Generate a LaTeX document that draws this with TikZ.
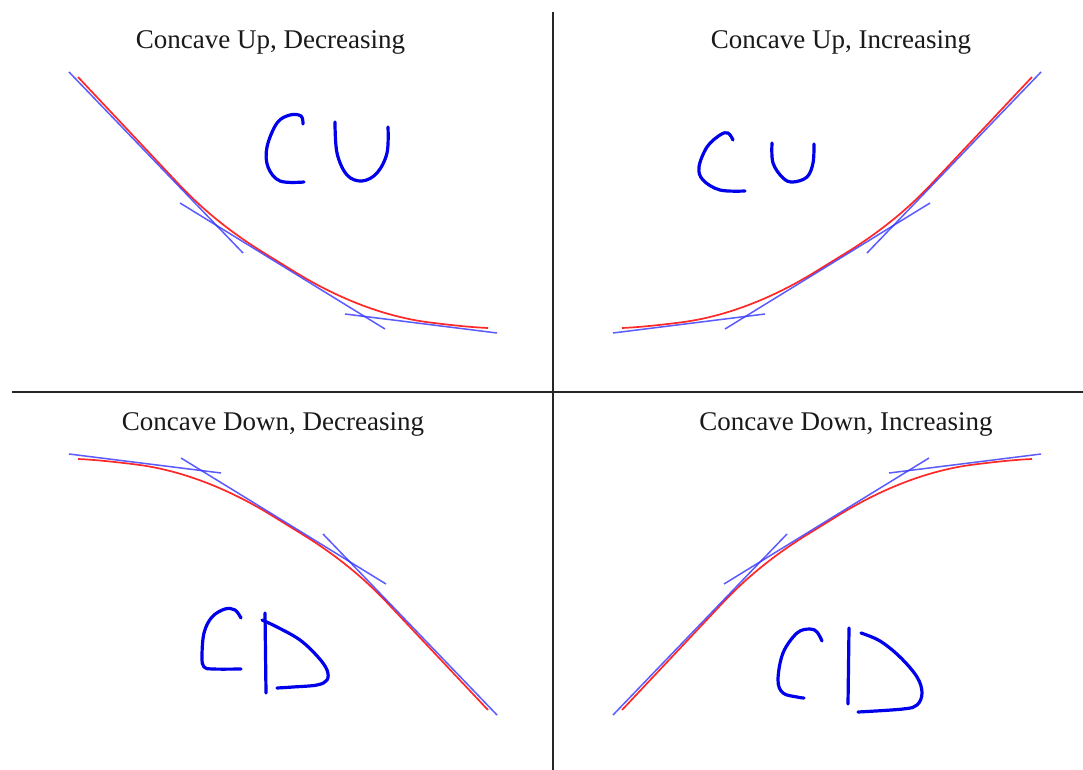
\documentclass[tikz,border=0pt]{standalone}
\usepackage{fontspec}
\setmainfont{Liberation Serif}
\definecolor{curvered}{RGB}{255,40,40}
\definecolor{tanblue}{RGB}{50,50,255}
\definecolor{inkblue}{RGB}{0,0,235}
\newcommand\quadrantcurves{%
  \draw[redcurve] (78,77) -- (180,185.5) .. controls (204.4,211.2) and (232.7,233.8) .. (265,253.5)
    -- (295,272) .. controls (339.4,299.3) and (385.9,317) .. (430,322.5)
    .. controls (450,325) and (470,327.2) .. (488,328);
  \draw[tanline] (69,72) -- (243,253);
  \draw[tanline] (180,203) -- (385,329);
  \draw[tanline] (345,314) -- (497,333);
}
\begin{document}
\begin{tikzpicture}[x=1pt,y=-1pt,
  axis/.style={line width=2pt,black!85},
  redcurve/.style={line width=1.7pt,curvered,line join=round},
  tanline/.style={line width=1.5pt,tanblue,opacity=0.8},
  ink/.style={line width=3.2pt,inkblue,line cap=round,line join=round},
  title/.style={anchor=base,inner sep=0pt,font=\fontsize{27}{30}\selectfont,text=black!90}]
\useasboundingbox (0,0) rectangle (1083,770);
\fill[white] (0,0) rectangle (1083,770);
% axes
\coordinate (vtop) at (553,12);
\coordinate (vbot) at (553,770);
\coordinate (hleft) at (12,392);
\coordinate (hright) at (1083,392);
\draw[axis] (vtop) -- (vbot);
\draw[axis] (hleft) -- (hright);
% titles
\node[title] (t1) at (270.5,49) {Concave Up, Decreasing};
\node[title] (t2) at (841,49) {Concave Up, Increasing};
\node[title] (t3) at (273,430) {Concave Down, Decreasing};
\node[title] (t4) at (846,430) {Concave Down, Increasing};
% curves with tangent lines
\begin{scope}
  \quadrantcurves
\end{scope}
\begin{scope}[cm={-1,0,0,1,(1110,0)}]
  \quadrantcurves
\end{scope}
\begin{scope}[cm={-1,0,0,-1,(566,787)}]
  \quadrantcurves
\end{scope}
\begin{scope}[cm={1,0,0,-1,(544,787)}]
  \quadrantcurves
\end{scope}
% handwriting: top-left CU
\draw[ink] plot[smooth,tension=0.6] coordinates {(303,124) (301,116) (290,115) (277,123) (267,147) (268,167) (280,181) (304,182)};
\draw[ink] plot[smooth,tension=0.6] coordinates {(335,122) (337,153) (347,175) (362,181) (377,173) (387,153) (388,127)};
% top-right CU
\draw[ink] plot[smooth,tension=0.6] coordinates {(733,140) (728,133) (720,135) (707,147) (699,167) (703,180) (720,190) (745,191)};
\draw[ink] plot[smooth,tension=0.6] coordinates {(772,143) (773,163) (783,178) (793,182) (807,177) (813,163) (814,144)};
% bottom-left CD
\draw[ink] plot[smooth,tension=0.6] coordinates {(241,618) (235,610) (225,609) (212,617) (204,633) (202,657) (204,667) (213,669) (241,669)};
\draw[ink] (265,613) -- (266,693);
\draw[ink] plot[smooth,tension=0.6] coordinates {(262,620) (277,627) (300,640) (318,657) (327,670) (327,680) (317,685) (293,687) (277,688)};
% bottom-right CD
\draw[ink] plot[smooth,tension=0.6] coordinates {(822,641) (817,632) (810,629) (797,633) (783,653) (778,680) (783,693) (797,697) (804,698)};
\draw[ink] (849,628) -- (848,704);
\draw[ink] plot[smooth,tension=0.6] coordinates {(861,633) (880,641) (900,657) (917,677) (922,693) (917,705) (903,709) (858,712)};
\end{tikzpicture}
\end{document}
